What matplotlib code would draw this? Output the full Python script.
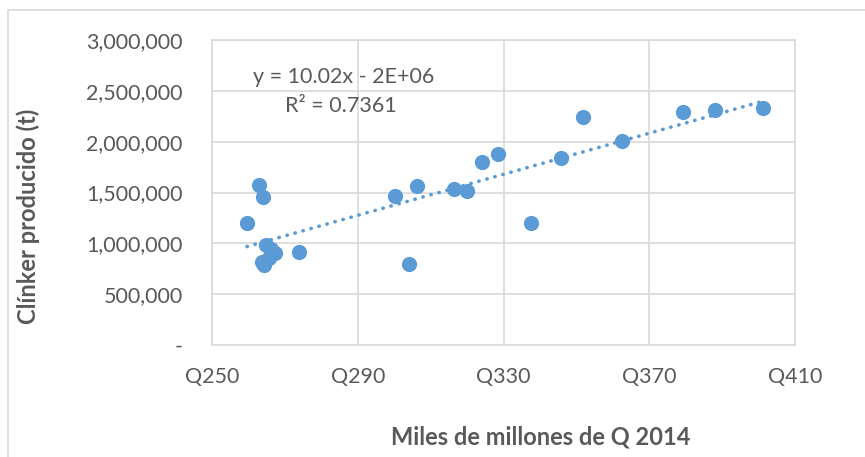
import matplotlib
matplotlib.use("Agg")
import matplotlib.pyplot as plt
import numpy as np
from matplotlib.patches import Rectangle
from matplotlib.ticker import FuncFormatter

# PIB en miles de millones de Q 2014 vs clinker producido (t)
pib = [259.6, 263.0, 264.1, 264.7, 266.2, 267.3, 263.7, 264.3, 265.7, 273.9,
       300.1, 304.1, 306.2, 316.5, 320.1, 324.1, 328.4, 337.6, 345.9, 351.8,
       362.6, 379.3, 388.0, 401.2]
clinker = [1201000, 1575000, 1460000, 979000, 945000, 906000, 817000, 787000, 856000, 915000,
           1467000, 794000, 1568000, 1536000, 1516000, 1798000, 1880000, 1204000, 1844000, 2247000,
           2008000, 2290000, 2313000, 2330000]

x_ticks = [250, 290, 330, 370, 410]
y_ticks = [0, 500000, 1000000, 1500000, 2000000, 2500000, 3000000]

eq_text = "y = 10.02x - 2E+06"
r2_text = "R² = 0.7361"

blue = "#5B9BD5"
gray_text = "#595959"
grid_col = "#D9D9D9"

plt.rcParams["font.family"] = ["Lato", "DejaVu Sans"]

fig = plt.figure(figsize=(8.65, 4.57), dpi=100)
fig.patches.append(Rectangle((8 / 865, -0.01), 1.0, 1 - 10 / 457 + 0.01, transform=fig.transFigure,
                             fill=False, edgecolor=grid_col, linewidth=1.2))

ax = fig.add_axes([212 / 865, 1 - 345 / 457, (795 - 212) / 865, (345 - 40) / 457])

ax.scatter(pib, clinker, s=120, color=blue, zorder=3, linewidths=0)

# linea de tendencia
coef = np.polyfit(pib, clinker, 1)
xs = np.array([min(pib), max(pib)])
ax.plot(xs, np.polyval(coef, xs), linestyle=(0, (0.1, 2.2)), dash_capstyle="round",
        color=blue, linewidth=2.6, zorder=4)

ax.set_xlim(250, 410)
ax.set_ylim(0, 3000000)
ax.set_xticks(x_ticks)
ax.set_yticks(y_ticks)
ax.xaxis.set_major_formatter(FuncFormatter(lambda v, p: "Q%d" % v))
ax.yaxis.set_major_formatter(FuncFormatter(lambda v, p: "-" if v == 0 else "{:,.0f}".format(v)))
ax.grid(True, color=grid_col, linewidth=1.2, zorder=0)
ax.set_axisbelow(True)
for s in ax.spines.values():
    s.set_color(grid_col)
    s.set_linewidth(1.2)
ax.tick_params(length=0, labelsize=15.5, labelcolor=gray_text)
ax.tick_params(axis="x", pad=16)
ax.tick_params(axis="y", pad=21)

fig.text(541 / 865, 1 - 437 / 457, "Miles de millones de Q 2014", fontsize=17, fontweight="bold",
         color=gray_text, ha="center", va="center")
fig.text(28 / 865, 1 - 216 / 457, "Clínker producido (t)", fontsize=17, fontweight="bold",
         color=gray_text, ha="center", va="center", rotation=90)

ax.text(261.3, 2638000, eq_text, fontsize=15.5, color=gray_text, va="center")
ax.text(270.1, 2352000, r2_text, fontsize=15.5, color=gray_text, va="center")

fig.savefig("out.png", dpi=100)
